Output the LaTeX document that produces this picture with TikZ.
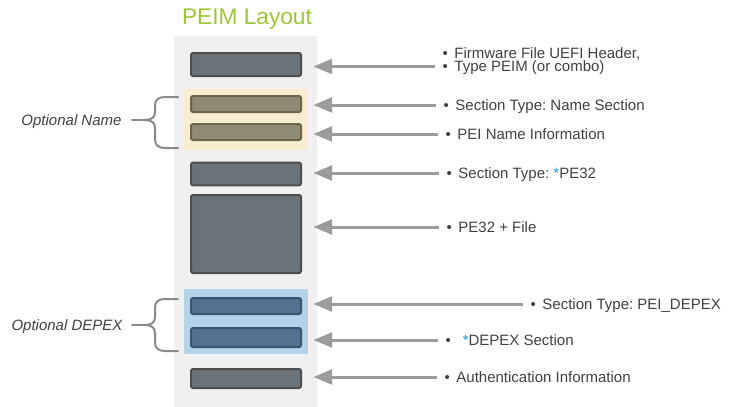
\documentclass[tikz,border=0pt]{standalone}
\usepackage{fontspec}
\setmainfont{Liberation Sans}
\usetikzlibrary{arrows.meta}
\frenchspacing

\definecolor{titlegreen}{RGB}{155,200,50}
\definecolor{colbg}{RGB}{240,240,240}
\definecolor{namebg}{RGB}{247,237,208}
\definecolor{depexbg}{RGB}{180,210,232}
\definecolor{boxgray}{RGB}{107,115,122}
\definecolor{boxedge}{RGB}{77,77,77}
\definecolor{olivebox}{RGB}{143,138,116}
\definecolor{oliveedge}{RGB}{110,101,70}
\definecolor{bluebox}{RGB}{82,114,143}
\definecolor{blueedge}{RGB}{59,85,112}
\definecolor{arrowgray}{RGB}{156,156,156}
\definecolor{bracegray}{RGB}{138,138,138}
\definecolor{txtgray}{RGB}{64,64,64}
\definecolor{starblue}{RGB}{30,144,230}

\tikzset{every picture/.style={line width=0.75pt}}

\begin{document}
\begin{tikzpicture}[x=0.75pt, y=-0.75pt,
    region/.style={inner sep=0pt, minimum width=93pt},
    secbox/.style={draw=boxedge, fill=boxgray, line width=1.5pt, rounded corners=1.5pt,
        inner sep=0pt, minimum width=82.5pt},
    namebox/.style={secbox, draw=oliveedge, fill=olivebox},
    depexbox/.style={secbox, draw=blueedge, fill=bluebox},
    lbl/.style={anchor=west, inner sep=0pt, text=txtgray, text height=8pt, text depth=0pt,
        font=\fontsize{11.25pt}{13.5pt}\selectfont},
    optlbl/.style={lbl, anchor=center, font=\itshape\fontsize{11.25pt}{13.5pt}\selectfont},
    arr/.style={draw=arrowgray, line width=2.25pt, -{Triangle[length=14pt,width=11pt]},
        shorten <=5pt, shorten >=8.5pt},
    bracepath/.style={draw=bracegray, line width=1.5pt, line cap=round}]
        \useasboundingbox (0,0) rectangle (744,407);
        % column and the two optional groups
        \node[inner sep=0pt, fill=colbg, minimum width=107.25pt, minimum height=278.25pt] (column) at (245.5,221.5) {};
        \node[region, fill=namebg, minimum height=45.75pt] (namegrp) at (246,119.5) {};
        \node[region, fill=depexbg, minimum height=48.75pt] (depexgrp) at (246,321.5) {};
        \node[font=\fontsize{17pt}{20pt}\selectfont, text=titlegreen, anchor=base] (title) at (247,25) {PEIM Layout};

        % sections
        \node[secbox, minimum height=17.25pt] (hdr) at (246,64.5) {};
        \node[namebox, minimum height=12pt] (namesec) at (246,104) {};
        \node[namebox, minimum height=12pt] (nameinfo) at (246,132) {};
        \node[secbox, minimum height=17pt] (pesec) at (246,174) {};
        \node[secbox, minimum height=58.5pt] (pefile) at (246,234) {};
        \node[depexbox, minimum height=12pt] (depexsec) at (246,306) {};
        \node[depexbox, minimum height=14.25pt] (depex) at (246,337.5) {};
        \node[secbox, minimum height=14.25pt] (auth) at (246,378.5) {};

        % descriptions
        \node[lbl] (hdrtxta) at (442,53) {•\hspace{5pt}Firmware File UEFI Header,};
        \node[lbl] (hdrtxt) at (442,66.5) {•\hspace{5pt}Type PEIM (or combo)};
        \node[lbl] (namesectxt) at (443,105) {•\hspace{5pt}Section Type: Name Section};
        \node[lbl] (nameinfotxt) at (445,134) {•\hspace{5pt}PEI Name Information};
        \node[lbl] (pesectxt) at (446,173) {•\hspace{5pt}Section Type: \textcolor{starblue}{*}PE32};
        \node[lbl] (pefiletxt) at (446,227) {•\hspace{5pt}PE32 + File};
        \node[lbl] (depexsectxt) at (530,304) {•\hspace{5pt}Section Type: PEI\_DEPEX};
        \node[lbl] (depextxt) at (445,340) {•\hspace{9pt}\textcolor{starblue}{*}DEPEX Section};
        \node[lbl] (authtxt) at (444,377) {•\hspace{5pt}Authentication Information};

        \draw[arr] (hdrtxt.west) -- (hdrtxt.west -| hdr.east);
        \draw[arr] (namesectxt.west) -- (namesectxt.west -| namesec.east);
        \draw[arr] (nameinfotxt.west) -- (nameinfotxt.west -| nameinfo.east);
        \draw[arr] (pesectxt.west) -- (pesectxt.west -| pesec.east);
        \draw[arr] (pefiletxt.west) -- (pefiletxt.west -| pefile.east);
        \draw[arr] (depexsectxt.west) -- (depexsectxt.west -| depexsec.east);
        \draw[arr] (depextxt.west) -- (depextxt.west -| depex.east);
        \draw[arr] (authtxt.west) -- (authtxt.west -| auth.east);

        % optional groups
        \node[optlbl] (optname) at (71.5,120) {Optional Name};
        \node[optlbl] (optdepex) at (67,325) {Optional DEPEX};
        \draw[bracepath] (178,97) -- (165,97) .. controls (158,97) and (155,100) .. (155,106)
            -- (155,112) .. controls (155,117) and (152,120) .. (145,120)
            .. controls (152,120) and (155,123) .. (155,128) -- (155,139)
            .. controls (155,145) and (158,148) .. (165,148) -- (178,148);
        \draw[bracepath] (145,120) -- (132,120);
        \draw[bracepath] (178,299) -- (165,299) .. controls (158,299) and (155,302) .. (155,308)
            -- (155,317) .. controls (155,322) and (152,325) .. (145,325)
            .. controls (152,325) and (155,328) .. (155,333) -- (155,342)
            .. controls (155,348) and (158,351) .. (165,351) -- (178,351);
        \draw[bracepath] (145,325) -- (132,325);
\end{tikzpicture}
\end{document}
